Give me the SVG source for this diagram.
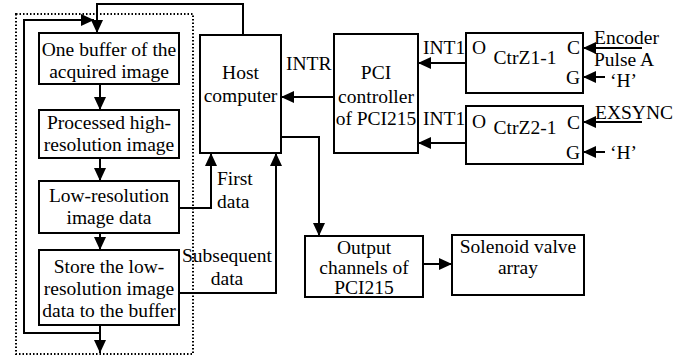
<svg xmlns="http://www.w3.org/2000/svg" width="683" height="358" viewBox="0 0 683 358" font-family="'Liberation Serif', 'DejaVu Serif', serif">
<style>
text{font-family:'Liberation Serif','DejaVu Serif',serif;font-size:19.5px;fill:#000}
.c{text-anchor:middle}
.box{fill:#fff;stroke:#000;stroke-width:2}
.ln{fill:none;stroke:#000;stroke-width:2}
.dot{fill:none;stroke:#000;stroke-width:2;stroke-dasharray:1.5 2}
</style>
<defs>
<marker id="ah" markerUnits="userSpaceOnUse" markerWidth="14" markerHeight="12" refX="13" refY="6" orient="auto">
<path d="M0,0 L13,6 L0,12 Z" fill="#000"/>
</marker>
</defs>
<rect class="dot" x="16" y="14" width="177" height="340"/>
<g id="connectors">
<path class="ln" d="M243,35 V4 H97 V33" marker-end="url(#ah)"/>
<path class="ln" d="M100,333 H24 V20 H94" marker-end="url(#ah)"/>
<path class="ln" d="M100,84 V110" marker-end="url(#ah)"/>
<path class="ln" d="M100,158 V181" marker-end="url(#ah)"/>
<path class="ln" d="M100,233 V250" marker-end="url(#ah)"/>
<path class="ln" d="M100,325 V353" marker-end="url(#ah)"/>
<path class="ln" d="M179,208 H211 V153" marker-end="url(#ah)"/>
<path class="ln" d="M179,293 H276 V153" marker-end="url(#ah)"/>
<path class="ln" d="M334,97 H281" marker-end="url(#ah)"/>
<path class="ln" d="M281,137 H319 V236" marker-end="url(#ah)"/>
<path class="ln" d="M423,264 H452" marker-end="url(#ah)"/>
<path class="ln" d="M466,63 H418" marker-end="url(#ah)"/>
<path class="ln" d="M466,143 H418" marker-end="url(#ah)"/>
<path class="ln" d="M642,48 H583" marker-end="url(#ah)"/>
<path class="ln" d="M605,77 H583" marker-end="url(#ah)"/>
<path class="ln" d="M642,122 H583" marker-end="url(#ah)"/>
<path class="ln" d="M605,152 H583" marker-end="url(#ah)"/>
<text x="286" y="70">INTR</text>
<text x="423" y="54">INT1</text>
<text x="423" y="125">INT1</text>
<text x="217" y="185">First</text>
<text x="217" y="208">data</text>
<text x="182" y="262">Subsequent</text>
<text x="227" y="285" class="c">data</text>
<text x="594" y="44">Encoder</text>
<text x="594" y="66">Pulse A</text>
<text x="610" y="87">‘H’</text>
<text x="595" y="119">EXSYNC</text>
<text x="610" y="159">‘H’</text>
</g>
<g id="buffer">
<rect class="box" x="39" y="33" width="140" height="51"/>
<text x="109" y="56" class="c">One buffer of the</text>
<text x="109" y="78" class="c">acquired image</text>
</g>
<g id="processed">
<rect class="box" x="39" y="110" width="140" height="48"/>
<text x="109" y="129" class="c">Processed high-</text>
<text x="109" y="151" class="c">resolution image</text>
</g>
<g id="lowres">
<rect class="box" x="39" y="181" width="140" height="52"/>
<text x="109" y="202" class="c">Low-resolution</text>
<text x="109" y="224" class="c">image data</text>
</g>
<g id="store">
<rect class="box" x="39" y="250" width="140" height="75"/>
<text x="109" y="273" class="c">Store the low-</text>
<text x="109" y="295" class="c">resolution image</text>
<text x="109" y="317" class="c">data to the buffer</text>
</g>
<g id="host">
<rect class="box" x="200" y="35" width="81" height="118"/>
<text x="240.5" y="79" class="c">Host</text>
<text x="240.5" y="102" class="c">computer</text>
</g>
<g id="pci">
<rect class="box" x="334" y="34" width="84" height="119"/>
<text x="376" y="79" class="c">PCI</text>
<text x="376" y="103" class="c">controller</text>
<text x="376" y="125" class="c">of PCI215</text>
</g>
<g id="ctrz1">
<rect class="box" x="466" y="33" width="117" height="60"/>
<text x="472" y="54">O</text>
<text x="525" y="64" class="c">CtrZ1-1</text>
<text x="567" y="54">C</text>
<text x="566" y="84">G</text>
</g>
<g id="ctrz2">
<rect class="box" x="466" y="106" width="117" height="58"/>
<text x="472" y="128">O</text>
<text x="525" y="134" class="c">CtrZ2-1</text>
<text x="567" y="129">C</text>
<text x="566" y="159">G</text>
</g>
<g id="output">
<rect class="box" x="305" y="236" width="118" height="61"/>
<text x="364" y="254" class="c">Output</text>
<text x="364" y="274" class="c">channels of</text>
<text x="364" y="294" class="c">PCI215</text>
</g>
<g id="solenoid">
<rect class="box" x="452" y="235" width="132" height="60"/>
<text x="518" y="253" class="c">Solenoid valve</text>
<text x="518" y="274" class="c">array</text>
</g>
</svg>
